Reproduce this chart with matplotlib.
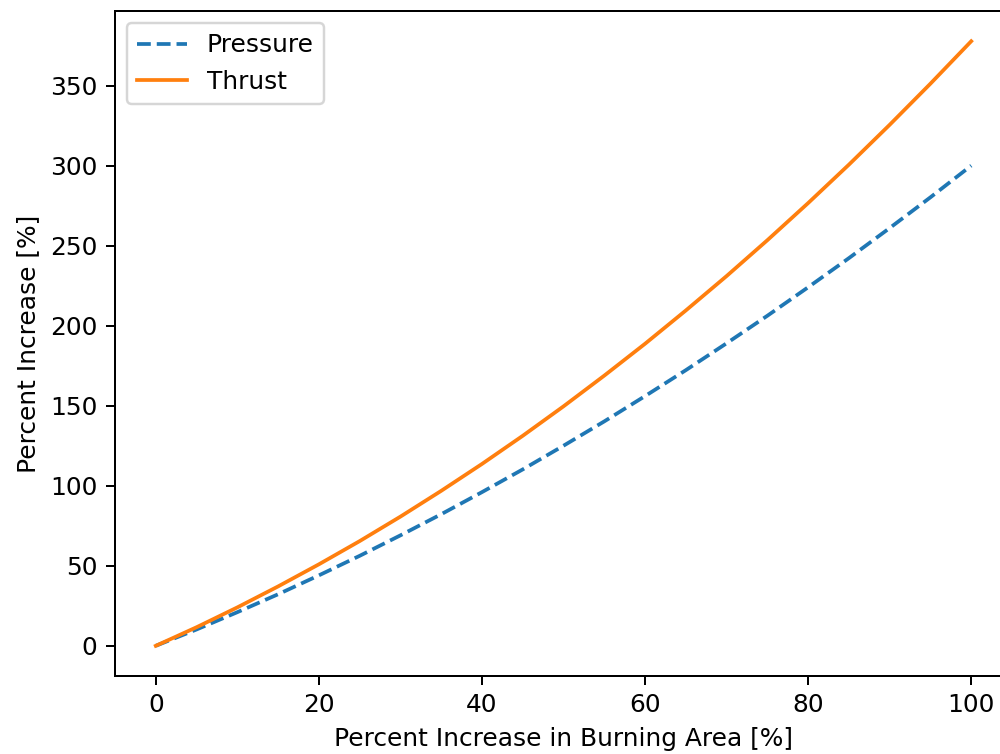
import matplotlib
matplotlib.use("Agg")
import matplotlib.pyplot as plt

# values
area_pct = [0, 5, 10, 15, 20, 25, 30, 35, 40, 45, 50,
            55, 60, 65, 70, 75, 80, 85, 90, 95, 100]
pressure_pct = [0, 10.2, 21, 32.2, 44, 56.2, 69, 82.2, 96, 110.2, 125,
                140.2, 156, 172.2, 189, 206.2, 224, 242.2, 261, 280.2, 300]
thrust_pct = [0, 11.6, 24, 37.1, 50.9, 65.4, 80.7, 96.8, 113.6, 131.2, 149.6,
              168.8, 188.7, 209.5, 231, 253.4, 276.6, 300.6, 325.5, 351.2, 377.7]

fig, ax = plt.subplots(figsize=(1000 / 179, 754 / 179), dpi=179)
# right spine sits just past the image edge in the reference
fig.subplots_adjust(left=0.115, right=1.012, top=0.9854, bottom=0.1034)

ax.plot(area_pct, pressure_pct, linestyle='--', label='Pressure')
ax.plot(area_pct, thrust_pct, label='Thrust')

ax.set_xlabel('Percent Increase in Burning Area [%]')
ax.set_ylabel('Percent Increase [%]')
ax.legend(loc='upper left')

fig.savefig('out.png')
